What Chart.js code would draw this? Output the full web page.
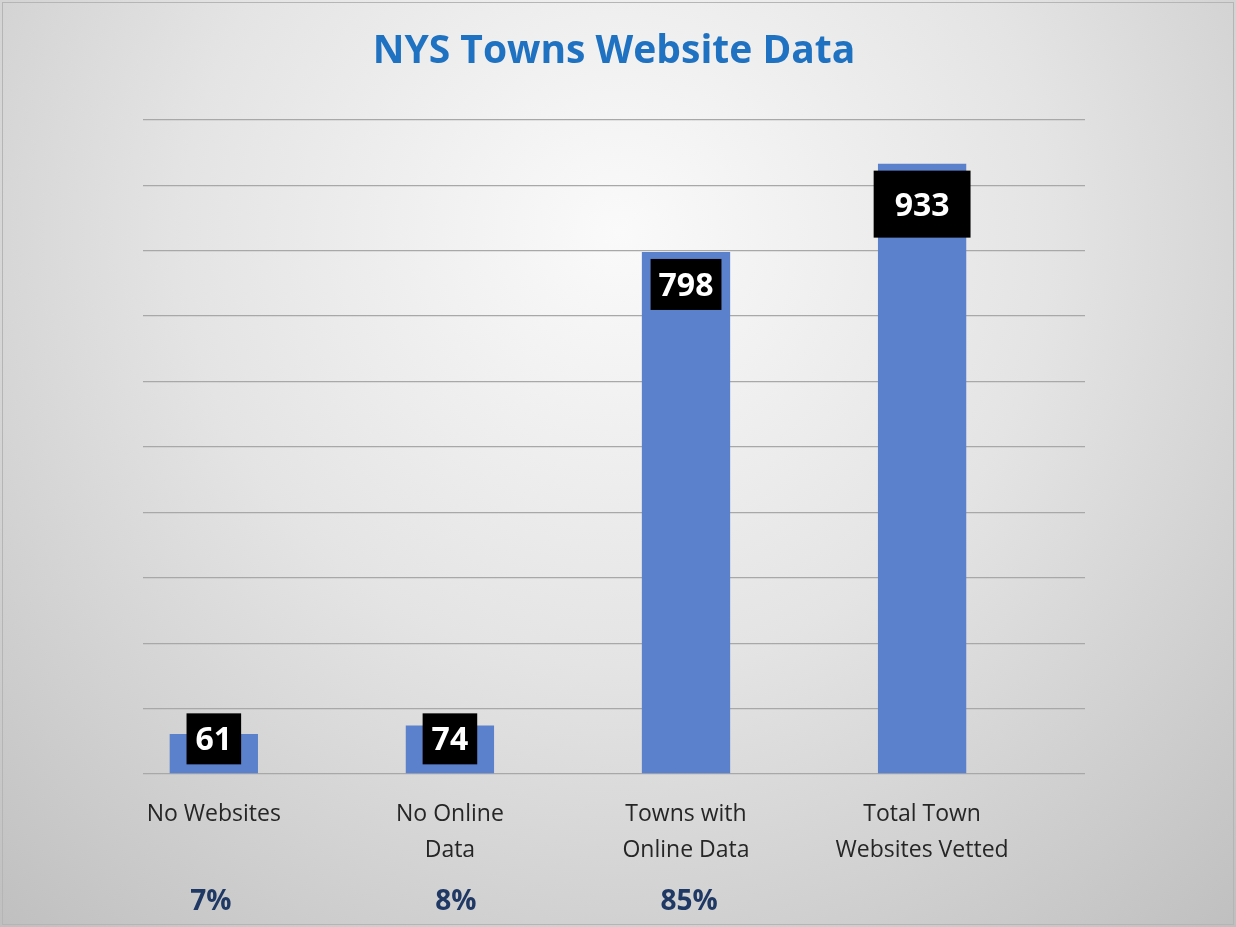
<!DOCTYPE html>
<html>
<head>
<meta charset="utf-8">
<title>NYS Towns Website Data</title>
<script src="https://cdn.jsdelivr.net/npm/chart.js@4.4.0/dist/chart.umd.min.js"></script>
<style>
html, body { margin: 0; padding: 0; background: #ffffff; }
#wrap { width: 1236px; height: 927px; position: relative; }
</style>
</head>
<body>
<div id="wrap"><canvas id="townsChart"></canvas></div>
<script>
// --------- DADOS ----------
const categories = [["No Websites"], ["No Online", "Data"], ["Towns with", "Online Data"], ["Total Town", "Websites Vetted"]];
const townCounts = [61, 74, 798, 933];
const shareLabels = ["7%", "8%", "85%", ""];
const yMax = 1000;
const yStep = 100;

const barColor = "#5b80cc";
const fontFamily = "'Open Sans', 'Noto Sans', sans-serif";

// --------- FUNDO (gradiente radial) ----------
const backgroundPlugin = {
    id: "background",
    beforeDraw(chart){
        const c = chart.ctx;
        const w = chart.width, h = chart.height;
        c.save();
        const g = c.createRadialGradient(w * 0.5, h * 0.25, 0, w * 0.5, h * 0.25, w * 0.78);
        g.addColorStop(0, "#fafafa");
        g.addColorStop(0.45, "#e4e4e4");
        g.addColorStop(1, "#bdbdbd");
        c.fillStyle = g;
        c.fillRect(0, 0, w, h);
        c.strokeStyle = "#b5b5b5";
        c.lineWidth = 1;
        c.strokeRect(2.5, 2.5, w - 5, h - 5);
        c.restore();
    }
};

// --------- RÓTULOS (caixa preta + número branco) ----------
const boxLabelsPlugin = {
    id: "boxLabels",
    afterDatasetsDraw(chart, args, opts){
        const c = chart.ctx;
        const meta = chart.getDatasetMeta(0);
        c.save();
        c.font = "bold 32px " + fontFamily;
        c.textAlign = "center";
        c.textBaseline = "alphabetic";
        meta.data.forEach((bar, i) => {
            const text = String(townCounts[i]);
            const pad = opts.pads[i];
            const tw = c.measureText(text).width;
            const bw = tw + pad.x * 2;
            const bh = opts.digitHeight + pad.y * 2;
            let top = bar.y + opts.offset;
            if(top + bh > bar.base - opts.bottomGap) top = bar.base - opts.bottomGap - bh;
            c.fillStyle = "#000000";
            c.fillRect(bar.x - bw / 2, top, bw, bh);
            c.fillStyle = "#ffffff";
            c.fillText(text, bar.x, top + bh / 2 + opts.digitHeight / 2);
        });
        c.restore();
    }
};

// --------- PERCENTUAIS ABAIXO DAS CATEGORIAS ----------
const sharePlugin = {
    id: "shares",
    afterDraw(chart, args, opts){
        const c = chart.ctx;
        const x = chart.scales.x;
        c.save();
        c.font = "bold 28px " + fontFamily;
        c.fillStyle = "#1f3864";
        c.textAlign = "center";
        c.textBaseline = "alphabetic";
        shareLabels.forEach((s, i) => {
            if(s) c.fillText(s, x.getPixelForValue(i) + opts.shift[i], opts.baseline);
        });
        c.restore();
    }
};

const ctx = document.getElementById("townsChart").getContext("2d");

let townsChart = new Chart(ctx, {
    type: "bar",
    data: {
        datasets: [{
            label: "Towns",
            data: townCounts.map((v, i) => ({x: i, y: v})),
            backgroundColor: barColor,
            borderWidth: 0,
            barPercentage: 0.374,
            categoryPercentage: 1
        }]
    },
    options: {
        responsive: true,
        maintainAspectRatio: false,
        animation: false,
        layout: { padding: { left: 143, right: 151, top: 0, bottom: 0 } },
        plugins: {
            legend: { display: false },
            tooltip: { enabled: false },
            title: {
                display: true,
                text: "NYS Towns Website Data",
                color: "#1f72c1",
                font: { family: fontFamily, size: 39, weight: "bold", lineHeight: 1.2 },
                padding: { top: 28, bottom: 45 }
            },
            boxLabels: {
                pads: [{x: 9, y: 14}, {x: 9, y: 14}, {x: 8, y: 14}, {x: 21, y: 22}],
                digitHeight: 23,
                offset: 7,
                bottomGap: 9
            },
            shares: { baseline: 910, shift: [-3, 6, 3, 0] }
        },
        scales: {
            x: {
                type: "linear",
                min: -0.3,
                max: 3.69,
                offset: false,
                grid: { display: false, drawTicks: false },
                border: { display: false },
                ticks: {
                    stepSize: 1,
                    includeBounds: false,
                    autoSkip: false,
                    maxRotation: 0,
                    padding: 22,
                    color: "#262626",
                    font: { family: fontFamily, size: 23, lineHeight: 1.565 },
                    callback: (v) => Number.isInteger(v) && categories[v] ? categories[v] : ""
                },
                afterFit: (s) => { s.height = 153; }
            },
            y: {
                min: 0,
                max: yMax,
                grid: { color: "#a8a8a8", lineWidth: 1.3, drawTicks: false },
                border: { display: false },
                ticks: { display: false, stepSize: yStep },
                afterFit: (s) => { s.width = 0; }
            }
        }
    },
    plugins: [backgroundPlugin, boxLabelsPlugin, sharePlugin]
});
</script>
</body>
</html>
